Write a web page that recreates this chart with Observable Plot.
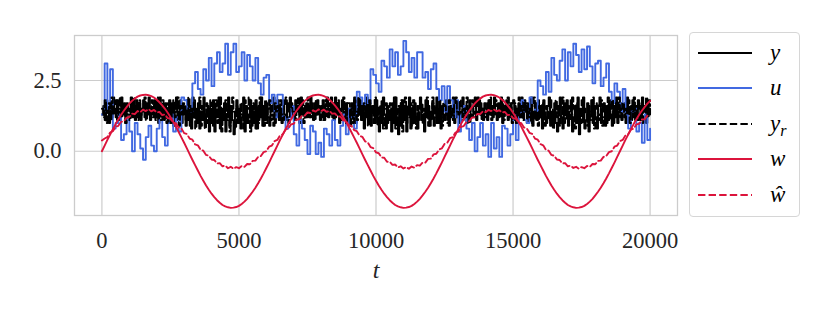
<!DOCTYPE html>
<html>
<head>
<meta charset="utf-8">
<script src="https://cdn.jsdelivr.net/npm/d3@7"></script>
<script src="https://cdn.jsdelivr.net/npm/@observablehq/plot@0.6"></script>
<style>
  body { margin: 0; background: #fff; }
  #wrap { position: relative; width: 830px; height: 312px; font-family: "Liberation Serif", serif; }
  #legend { position: absolute; left: 689px; top: 32px; width: 111px; height: 185px; border: 1px solid #d6d6d6; border-radius: 4px; background: #fff; box-sizing: border-box; }
  .row { position: absolute; left: 0; width: 109px; height: 30px; }
  .row svg { position: absolute; left: 8px; top: 13px; }
  .lab { position: absolute; left: 80px; top: 0; font-style: italic; font-size: 23px; line-height: 30px; color: #000; white-space: nowrap; }
  .lab sub { font-size: 16px; vertical-align: -5px; line-height: 0; }
</style>
</head>
<body>
<div id="wrap"><div id="legend"></div></div>
<script>
// sampling steps of the time axis t
const fineStep = 50;   // y and y_r
const coarseStep = 100; // u, w, w-hat

const xTicks = [0, 5000, 10000, 15000, 20000];
const yTicks = [0, 2.5];

// output y (black solid)
const ySeries = [
1.3,1.6,1.1,1.8,1.4,1.0,1.7,1.2,1.9,1.5,
1.2,1.8,1.4,1.1,1.9,1.3,1.6,1.0,1.7,1.5,
1.4,1.9,1.2,1.6,1.1,1.8,1.3,1.7,1.1,1.5,
1.8,1.2,1.6,1.4,1.9,1.1,1.5,1.3,1.8,1.2,
1.6,1.0,1.9,1.3,1.5,1.1,1.7,1.4,1.0,1.8,
1.2,1.7,0.9,1.5,1.9,1.1,1.4,1.8,1.0,1.6,
1.3,0.9,1.8,1.1,1.6,0.8,1.9,1.2,1.5,1.0,
1.7,0.8,1.4,1.1,1.9,0.9,1.3,1.6,0.7,1.5,
1.0,1.8,0.7,1.4,1.2,1.9,0.8,1.5,1.1,1.7,
0.7,1.3,1.9,0.9,1.6,1.1,0.6,1.4,1.8,1.0,
1.5,0.8,1.2,1.9,0.7,1.6,1.0,1.3,1.8,0.9,
1.4,1.0,1.8,0.8,1.5,1.2,1.9,0.9,1.6,1.1,
1.7,1.2,0.9,1.6,1.4,1.9,1.0,1.3,1.8,1.1,
1.5,1.0,1.8,1.3,1.1,1.7,1.4,1.9,1.2,1.6,
1.1,1.8,1.4,1.6,1.0,1.9,1.3,1.5,1.2,1.7,
1.6,1.2,1.9,1.4,1.1,1.7,1.3,1.8,1.5,1.1,
1.3,1.8,1.1,1.6,1.9,1.2,1.5,1.4,1.7,1.1,
1.9,1.3,1.6,1.0,1.5,1.8,1.2,1.4,1.7,1.1,
1.4,0.9,1.7,1.2,1.9,1.0,1.6,1.3,1.8,1.1,
1.5,0.8,1.3,1.9,1.1,1.7,0.9,1.4,1.6,1.0,
1.8,1.2,0.7,1.5,1.0,1.9,1.3,0.8,1.6,1.1,
1.4,0.7,1.7,1.0,1.9,1.2,0.6,1.5,0.9,1.8,
1.1,1.6,0.7,1.3,1.9,0.8,1.4,1.0,1.7,1.2,
0.8,1.5,1.9,1.1,1.3,0.7,1.8,1.2,1.6,0.9,
1.4,1.7,0.9,1.2,1.9,1.0,1.5,0.8,1.6,1.3,
1.1,1.8,1.3,0.9,1.6,1.4,1.9,1.0,1.5,1.2,
1.7,1.0,1.4,1.9,1.2,1.6,1.0,1.5,1.8,1.3,
1.2,1.6,1.9,1.1,1.4,1.8,1.3,1.5,1.1,1.7,
1.5,1.1,1.8,1.3,1.6,1.2,1.9,1.4,1.1,1.7,
1.3,1.9,1.0,1.6,1.4,1.8,1.1,1.5,1.2,1.7,
1.8,1.1,1.5,1.0,1.7,1.3,1.9,1.2,1.4,1.6,
1.0,1.6,1.3,1.9,0.9,1.4,1.7,1.1,1.8,1.2,
1.5,0.8,1.8,1.2,1.0,1.6,1.9,0.9,1.4,1.1,
1.7,1.0,0.7,1.5,1.9,1.2,0.8,1.6,1.3,1.8,
0.9,1.4,1.8,0.7,1.2,1.6,1.0,1.9,0.6,1.5,
1.3,1.9,0.8,1.1,1.7,0.7,1.4,1.8,1.0,1.6,
1.2,0.8,1.6,1.9,1.0,1.4,1.7,0.9,1.5,1.1,
1.8,1.3,0.9,1.6,1.2,1.9,1.0,1.4,1.7,1.1,
1.4,1.7,1.0,1.9,1.3,1.5,1.1,1.8,1.2,1.6,
1.2,1.8,1.5,1.1,1.9,1.4,1.6,1.0,1.7,1.3,
1.5];

// reference y_r (black dashed)
const yrSeries = [
1.5,1.2,1.8,1.0,1.4,1.7,1.1,1.9,1.3,1.6,
1.8,1.1,1.5,1.9,1.2,1.4,1.7,1.0,1.6,1.3,
1.1,1.7,1.4,1.9,1.3,1.6,1.1,1.8,1.2,1.5,
1.4,1.9,1.1,1.7,1.3,1.5,1.8,1.2,1.6,1.1,
1.9,1.3,1.6,1.1,1.8,1.2,1.5,1.0,1.7,1.4,
1.0,1.5,1.8,1.2,1.4,1.9,0.9,1.6,1.3,1.7,
1.6,1.1,1.4,1.9,0.9,1.5,1.2,1.8,0.8,1.3,
1.2,1.9,0.9,1.6,1.3,0.8,1.7,1.0,1.5,1.8,
1.6,0.9,1.3,1.8,1.0,1.5,1.9,0.7,1.2,1.4,
1.8,1.1,1.5,0.7,1.2,1.9,1.4,0.8,1.6,1.3,
1.0,1.7,1.3,0.8,1.8,1.1,1.5,1.9,0.7,1.4,
1.7,1.2,0.8,1.6,1.0,1.9,1.3,1.5,0.9,1.8,
1.0,1.5,1.8,1.1,1.3,0.9,1.7,1.4,1.6,1.2,
1.8,1.3,1.1,1.6,1.9,1.2,1.0,1.5,1.7,1.4,
1.4,1.1,1.7,1.9,1.3,1.5,1.8,1.0,1.6,1.2,
1.9,1.4,1.2,1.7,1.5,1.1,1.8,1.3,1.6,1.4,
1.6,1.1,1.4,1.8,1.2,1.7,1.3,1.9,1.2,1.5,
1.2,1.6,1.8,1.3,1.1,1.5,1.9,1.4,1.0,1.7,
1.7,1.2,1.5,1.0,1.8,1.4,1.1,1.9,1.3,1.6,
1.1,1.7,1.2,1.5,0.9,1.8,1.3,1.6,1.0,1.9,
1.4,0.9,1.6,1.2,1.8,0.8,1.5,1.7,1.0,1.3,
1.7,1.1,1.4,1.9,0.8,1.3,1.6,1.0,1.8,0.7,
1.5,1.9,1.0,1.6,1.2,1.7,0.9,1.8,1.3,0.8,
1.6,1.1,1.4,1.7,1.0,1.5,1.3,1.9,0.9,1.4,
1.1,1.9,1.3,1.6,1.0,1.4,1.8,1.2,0.9,1.7,
1.6,1.3,1.0,1.8,1.2,1.5,1.1,1.7,1.9,1.4,
1.3,1.8,1.6,1.1,1.5,1.2,1.9,1.4,1.0,1.7,
1.8,1.4,1.2,1.6,1.9,1.3,1.7,1.1,1.5,1.4,
1.2,1.7,1.4,1.9,1.1,1.5,1.3,1.8,1.6,1.2,
1.6,1.2,1.8,1.1,1.5,1.3,1.9,1.4,1.7,1.0,
1.3,1.7,1.0,1.5,1.9,1.2,1.6,1.1,1.8,1.4,
1.7,1.2,1.5,1.0,1.6,1.9,1.1,1.4,0.9,1.6,
1.2,1.7,1.3,0.9,1.6,1.4,1.1,1.8,1.5,0.8,
1.4,1.8,1.2,1.6,0.9,1.3,1.9,1.0,1.7,1.1,
1.6,1.1,1.3,1.9,1.5,0.8,1.7,1.2,1.4,1.0,
1.8,1.0,1.5,1.3,0.9,1.6,1.1,1.4,1.9,0.8,
1.5,1.7,1.1,1.3,1.8,0.9,1.2,1.6,1.0,1.9,
1.1,1.5,1.8,1.0,1.4,1.7,1.3,1.9,1.2,1.5,
1.7,1.2,1.5,1.3,1.8,1.0,1.6,1.4,1.9,1.1,
1.5,1.1,1.3,1.7,1.0,1.6,1.4,1.9,1.2,1.8,
1.6];

// control input u (blue)
const uSeries = [
1.3,3.1,1.5,2.9,0.8,1.0,1.3,0.4,0.6,1.1,
0.7,0.0,1.0,0.6,0.1,-0.3,0.5,0.9,0.2,0.0,
0.8,1.1,0.5,0.2,1.0,1.3,0.7,1.2,0.7,1.9,
1.8,1.5,1.4,2.4,2.8,2.2,2.0,2.9,2.5,3.3,
2.3,3.1,3.5,2.8,3.1,3.8,2.7,3.5,3.8,2.8,
3.0,3.5,2.5,3.4,3.0,2.5,3.3,2.4,2.0,2.6,
2.7,1.7,2.0,1.2,2.0,2.0,1.2,0.8,1.2,1.6,
0.6,0.2,1.1,0.8,0.4,-0.1,0.9,0.7,-0.1,0.3,
-0.2,0.8,0.6,0.2,1.1,0.4,0.2,0.9,1.3,0.6,
1.5,1.2,0.8,2.1,1.9,1.6,2.0,1.7,2.9,2.7,
2.4,2.1,3.2,3.0,2.6,3.6,3.0,3.5,2.7,3.0,
3.9,3.5,2.8,3.3,2.6,3.5,3.5,2.6,2.8,2.2,
2.9,3.1,2.2,1.8,2.3,1.4,2.3,1.8,1.2,1.8,
0.7,1.3,1.6,0.8,0.4,1.0,0.0,0.5,1.0,0.2,
0.6,-0.2,1.0,0.1,0.5,-0.2,0.9,0.8,0.2,0.6,
1.3,0.4,1.2,1.8,1.1,1.0,1.9,1.7,1.3,2.5,
2.3,2.0,2.8,2.1,3.3,2.7,2.5,3.2,3.6,2.5,
3.5,3.0,3.8,3.4,2.8,3.6,2.9,3.7,3.0,2.4,
3.1,3.2,2.3,2.6,3.1,2.1,1.7,2.4,2.1,1.4,
2.2,1.3,0.8,1.4,1.5,0.7,1.0,0.3,1.3,0.4,
0.8];

// disturbance w (crimson solid)
const wSeries = [
0,0.20,0.40,0.59,0.78,0.96,1.13,1.29,1.43,1.56,1.68,1.78,1.86,1.93,1.97,1.99,2.00,1.98,1.95,1.90,1.82,1.73,1.62,1.50,1.36,1.21,1.04,0.87,0.68,0.49,0.30,0.10,-0.10,-0.30,-0.49,-0.68,-0.87,-1.04,-1.21,-1.36,-1.50,-1.62,-1.73,-1.82,-1.90,-1.95,-1.98,-2.00,-1.99,-1.97,-1.93,-1.86,-1.78,-1.68,-1.56,-1.43,-1.29,-1.13,-0.96,-0.78,-0.59,-0.40,-0.20,
0,0.20,0.40,0.59,0.78,0.96,1.13,1.29,1.43,1.56,1.68,1.78,1.86,1.93,1.97,1.99,2.00,1.98,1.95,1.90,1.82,1.73,1.62,1.50,1.36,1.21,1.04,0.87,0.68,0.49,0.30,0.10,-0.10,-0.30,-0.49,-0.68,-0.87,-1.04,-1.21,-1.36,-1.50,-1.62,-1.73,-1.82,-1.90,-1.95,-1.98,-2.00,-1.99,-1.97,-1.93,-1.86,-1.78,-1.68,-1.56,-1.43,-1.29,-1.13,-0.96,-0.78,-0.59,-0.40,-0.20,
0,0.20,0.40,0.59,0.78,0.96,1.13,1.29,1.43,1.56,1.68,1.78,1.86,1.93,1.97,1.99,2.00,1.98,1.95,1.90,1.82,1.73,1.62,1.50,1.36,1.21,1.04,0.87,0.68,0.49,0.30,0.10,-0.10,-0.30,-0.49,-0.68,-0.87,-1.04,-1.21,-1.36,-1.50,-1.62,-1.73,-1.82,-1.90,-1.95,-1.98,-2.00,-1.99,-1.97,-1.93,-1.86,-1.78,-1.68,-1.56,-1.43,-1.29,-1.13,-0.96,-0.78,-0.59,-0.40,-0.20,
0,0.20,0.40,0.59,0.78,0.96,1.13,1.29,1.43,1.56,1.68,1.78];

// estimate w-hat (crimson dashed)
const wHatSeries = [
0.38,0.45,0.50,0.66,0.71,0.86,0.90,1.04,1.06,1.19,
1.21,1.33,1.31,1.42,1.38,1.47,1.42,1.49,1.41,1.46,
1.37,1.39,1.28,1.30,1.17,1.15,1.01,0.99,0.84,0.81,
0.64,0.61,0.45,0.41,0.24,0.21,0.05,0.02,-0.13,-0.16,
-0.29,-0.31,-0.43,-0.42,-0.53,-0.51,-0.60,-0.55,-0.62,-0.56,
-0.60,-0.52,-0.55,-0.45,-0.46,-0.34,-0.33,-0.20,-0.17,-0.03,
0.00,0.16,0.20,0.36,0.40,0.56,0.60,0.76,0.80,0.95,
0.97,1.12,1.13,1.26,1.26,1.37,1.35,1.44,1.40,1.48,
1.42,1.47,1.39,1.43,1.33,1.34,1.23,1.23,1.09,1.08,
0.93,0.90,0.75,0.71,0.55,0.51,0.35,0.31,0.15,0.11,
-0.04,-0.07,-0.22,-0.23,-0.37,-0.37,-0.48,-0.47,-0.57,-0.53,
-0.61,-0.56,-0.62,-0.54,-0.58,-0.49,-0.51,-0.40,-0.40,-0.27,
-0.26,-0.11,-0.09,0.06,0.10,0.26,0.30,0.46,0.50,0.66,
0.70,0.86,0.89,1.03,1.06,1.19,1.20,1.32,1.31,1.41,
1.38,1.46,1.42,1.48,1.41,1.45,1.37,1.39,1.28,1.29,
1.17,1.15,1.02,0.99,0.84,0.81,0.65,0.61,0.45,0.41,
0.25,0.21,0.05,0.02,-0.13,-0.16,-0.29,-0.31,-0.43,-0.42,
-0.53,-0.51,-0.59,-0.55,-0.62,-0.56,-0.60,-0.52,-0.55,-0.45,
-0.46,-0.34,-0.33,-0.20,-0.17,-0.03,0.00,0.16,0.20,0.36,
0.40,0.56,0.60,0.76,0.80,0.95,0.97,1.12,1.13,1.26,
1.26];

const seriesNames = ["y", "u", "y_r", "w", "w_hat"];
const seriesColors = ["#000000", "#4169e1", "#000000", "#dc143c", "#dc143c"];
const seriesDash = [null, null, "7.4,3.2", null, "7.4,3.2"];
const seriesLabelsHtml = ["y", "u", "y<sub>r</sub>", "w", "\u0175"];

const toRows = (arr, step) => arr.map((v, i) => ({t: i * step, v}));
const rows = [
  toRows(ySeries, fineStep),
  toRows(uSeries, coarseStep),
  toRows(yrSeries, fineStep),
  toRows(wSeries, coarseStep),
  toRows(wHatSeries, coarseStep)
];
const curves = ["step-after", "step-after", "step-after", "linear", "linear"];

const lineMarks = rows.map((r, i) => Plot.line(r, {
  x: "t", y: "v",
  stroke: seriesColors[i],
  strokeWidth: 1.9,
  strokeDasharray: seriesDash[i] || undefined,
  curve: curves[i]
}));

const chart = Plot.plot({
  width: 830,
  height: 312,
  marginLeft: 74,
  marginRight: 153,
  marginTop: 35,
  marginBottom: 97,
  style: {fontFamily: "'Liberation Serif', serif", fontSize: "22.5px", color: "#262626", background: "transparent"},
  x: {domain: [-1000, 21000]},
  y: {domain: [-2.27, 4.09]},
  marks: [
    Plot.gridX(xTicks, {stroke: "#cccccc", strokeOpacity: 1, strokeWidth: 1.2}),
    Plot.gridY(yTicks, {stroke: "#cccccc", strokeOpacity: 1, strokeWidth: 1.2}),
    Plot.frame({stroke: "#cccccc", strokeWidth: 1.3}),
    Plot.axisX(xTicks, {tickSize: 0, tickPadding: 17, tickFormat: d => String(d), label: null}),
    Plot.axisY(yTicks, {tickSize: 0, tickPadding: 13, tickFormat: d3.format(".1f"), label: null}),
    ...lineMarks,
    Plot.text(["t"], {text: d => d, frameAnchor: "bottom", dy: 55, lineAnchor: "middle", fontStyle: "italic", fontSize: 24, fill: "#262626"})
  ]
});
document.getElementById("wrap").prepend(chart);

// legend (drawn as HTML to the right of the plot)
const legend = document.getElementById("legend");
const rowTops = [4.7, 40.3, 75.7, 111.3, 147];
seriesNames.forEach((name, i) => {
  const row = document.createElement("div");
  row.className = "row";
  row.style.top = rowTops[i] + "px";
  const dash = seriesDash[i] ? ` stroke-dasharray="${seriesDash[i]}"` : "";
  row.innerHTML = `<svg width="54" height="4"><line x1="0" y1="2" x2="54" y2="2" stroke="${seriesColors[i]}" stroke-width="1.9"${dash}/></svg><span class="lab">${seriesLabelsHtml[i]}</span>`;
  legend.appendChild(row);
});
</script>
</body>
</html>
